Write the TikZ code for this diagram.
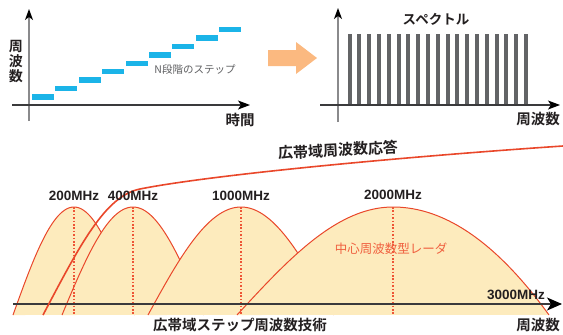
\documentclass[tikz,border=0pt]{standalone}
\usepackage{fontspec}
\setmainfont{Liberation Sans}
\newfontfamily\jp{Noto Sans CJK JP}[BoldFont={Noto Sans CJK JP Bold}]
\usetikzlibrary{arrows.meta}
\definecolor{stepc}{HTML}{1BB4E8}
\definecolor{specc}{HTML}{636466}
\definecolor{archfill}{HTML}{FDEBBD}
\definecolor{archline}{HTML}{E9472A}
\definecolor{dotc}{HTML}{EE5536}
\definecolor{arrowc}{HTML}{FBB980}
\definecolor{txt}{HTML}{231F20}
\definecolor{gtxt}{HTML}{5E5F61}
\definecolor{ltxt}{HTML}{F0603F}
\definecolor{axg}{HTML}{8A8A8C}
\definecolor{axd}{HTML}{3A3A3C}
\tikzset{
  jlab/.style={inner sep=0pt, text=txt, font=\jp\bfseries\fontsize{14.5}{15}\selectfont},
  mhz/.style={inner sep=0pt, text=txt, font=\bfseries\fontsize{13.5}{14}\selectfont},
  vaxis/.style={draw=axg, line width=1.3pt, -{Stealth[length=11pt,width=8pt,inset=3pt,color=black]}},
  haxis/.style={draw=axd, line width=1.1pt, -{Stealth[length=12pt,width=9pt,inset=3pt,color=black]}},
  archoutline/.style={draw=archline, line width=1pt},
  peakline/.style={draw=dotc, line width=1.3pt, dash pattern=on 1.6pt off 1.8pt},
  resp/.style={draw=archline, line width=1.6pt},
}
\begin{document}
\begin{tikzpicture}[x=1pt,y=-1pt]
\useasboundingbox (0,0) rectangle (563,335);

% ---------- top left panel ----------
\coordinate (a1b) at (29,121); \coordinate (a1t) at (29,9);
\coordinate (a1l) at (12,105); \coordinate (a1r) at (250,105);
\foreach \i in {0,...,8}
  \fill[stepc] ({32+23.4*\i},{94.3-8.45*\i}) rectangle +(22,5.5);
\draw[vaxis] (a1b) -- (a1t);
\draw[haxis] (a1l) -- (a1r);
\node[jlab, align=center, font=\jp\bfseries\fontsize{14}{15}\selectfont] (ylab1) at (16,62) {周\\波\\数};
\node[jlab] (xlab1) at (240,120) {時間};
\node[inner sep=0pt, text=gtxt, font=\jp\fontsize{10.5}{11}\selectfont] (nstep) at (195,70) {N段階のステップ};

% ---------- big arrow ----------
\fill[arrowc] (268,50) -- (296,50) -- (296,42) -- (317,58) -- (296,74) -- (296,66) -- (268,66) -- cycle;

% ---------- top right panel ----------
\coordinate (a2b) at (338,122); \coordinate (a2t) at (338,8);
\coordinate (a2l) at (320,105); \coordinate (a2r) at (560,105);
\foreach \i in {0,...,18}
  \fill[specc] ({347.5+9.8*\i},34) rectangle +(4,71);
\draw[vaxis] (a2b) -- (a2t);
\draw[haxis] (a2l) -- (a2r);
\node[jlab, font=\jp\bfseries\fontsize{13.5}{14}\selectfont] (spec) at (436,19) {スペクトル};
\node[jlab] (xlab2) at (538,119) {周波数};

% ---------- bottom panel: arches ----------
% left half: 1-cos shape (rounded top, steep feet); a = share of parabola on the right half
\foreach \c/\w/\a in {74/61/0, 133/71/0, 241/93/0, 393/156/1}{
  \fill[archfill] plot[domain=-1:0, samples=40] ({\c+\w*\x},{207+108*(1-cos(90*\x))})
     -- plot[domain=0:1, samples=40] ({\c+\w*\x},{207+108*(\a*\x*\x+(1-\a)*(1-cos(90*\x)))}) -- cycle;
  \draw[archoutline] plot[domain=-1:0, samples=40] ({\c+\w*\x},{207+108*(1-cos(90*\x))})
     -- plot[domain=0:1, samples=40] ({\c+\w*\x},{207+108*(\a*\x*\x+(1-\a)*(1-cos(90*\x)))});
}
\foreach \c in {74,133,241,393}
  \draw[peakline] (\c,207) -- (\c,315);

\coordinate (a3l) at (13,304); \coordinate (a3r) at (562,304);
\draw[draw=axd, line width=1.1pt, -{Stealth[length=15pt,width=13pt,inset=4pt,color=black]}] (a3l) -- (a3r);

% wide-band frequency response
\coordinate (r0) at (43,315); \coordinate (rm) at (140,189); \coordinate (r1) at (563,146);
\draw[resp] (r0) .. controls (80,245) and (105,196) .. (rm) .. controls (210,175) and (400,157) .. (r1);

\node[mhz] (l200) at (74,196) {200MHz};
\node[mhz] (l400) at (133,196) {400MHz};
\node[mhz] (l1000) at (241,196) {1000MHz};
\node[mhz] (l2000) at (393,195) {2000MHz};
\node[mhz] (l3000) at (516,295) {3000MHz};
\node[jlab, font=\jp\bfseries\fontsize{15}{15}\selectfont, rotate=3] (resplab) at (338,150) {広帯域周波数応答};
\node[inner sep=0pt, text=ltxt, font=\jp\fontsize{12.5}{13}\selectfont] (center) at (391,249) {中心周波数型レーダ};
\node[jlab] (tech) at (240,325) {広帯域ステップ周波数技術};
\node[jlab] (xlab3) at (538,325) {周波数};
\end{tikzpicture}
\end{document}
